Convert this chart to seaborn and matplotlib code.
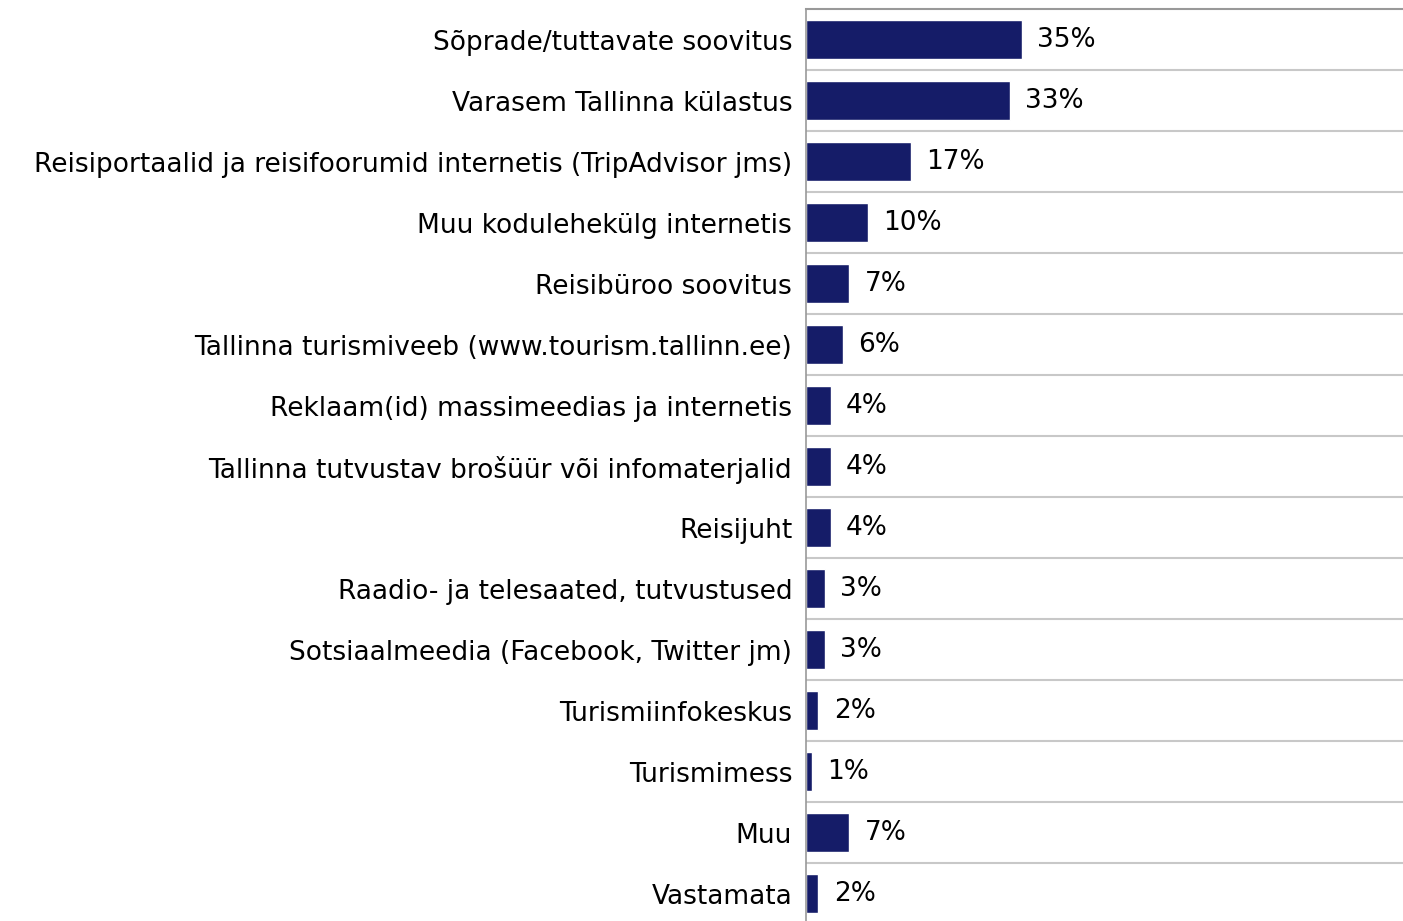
import numpy as np
import pandas as pd
import seaborn as sns
from matplotlib import pyplot as plt

# survey answers, share of respondents (%)
categories = [
    "Sõprade/tuttavate soovitus",
    "Varasem Tallinna külastus",
    "Reisiportaalid ja reisifoorumid internetis (TripAdvisor jms)",
    "Muu kodulehekülg internetis",
    "Reisibüroo soovitus",
    "Tallinna turismiveeb (www.tourism.tallinn.ee)",
    "Reklaam(id) massimeedias ja internetis",
    "Tallinna tutvustav brošüür või infomaterjalid",
    "Reisijuht",
    "Raadio- ja telesaated, tutvustused",
    "Sotsiaalmeedia (Facebook, Twitter jm)",
    "Turismiinfokeskus",
    "Turismimess",
    "Muu",
    "Vastamata",
]
shares = [35, 33, 17, 10, 7, 6, 4, 4, 4, 3, 3, 2, 1, 7, 2]

df = pd.DataFrame({"category": categories, "share": shares})

sns.set_theme(style="white")
plt.rcParams["font.family"] = ["DejaVu Sans"]

fig = plt.figure(figsize=(14.03, 9.21), dpi=100)
ax = fig.add_axes([0.5745, -0.0033, 0.4255, 0.9935])

sns.barplot(data=df, x="share", y="category", orient="h", color="#151c68",
            width=0.65, saturation=1, ax=ax)

ax.set_xlim(0, 96.7)
ax.set_ylim(len(categories) - 0.5, -0.5)
ax.set_xlabel("")
ax.set_ylabel("")
ax.set_xticks([])

# row separators
ax.set_yticks(np.arange(len(categories)) + 0.5, minor=True)
ax.grid(which="minor", axis="y", color="#c8c8c8", linewidth=1.5)
ax.tick_params(axis="y", which="both", length=0, pad=10, labelsize=19,
               labelcolor="black")

for s in ["right", "bottom"]:
    ax.spines[s].set_visible(False)
ax.spines["left"].set_color("#999999")
ax.spines["left"].set_linewidth(1.2)
ax.spines["top"].set_color("#999999")
ax.spines["top"].set_linewidth(1.5)

ax.bar_label(ax.containers[0], labels=[f"{v}%" for v in shares],
             padding=11, fontsize=19, color="black")

fig.savefig("out.png", dpi=100)
